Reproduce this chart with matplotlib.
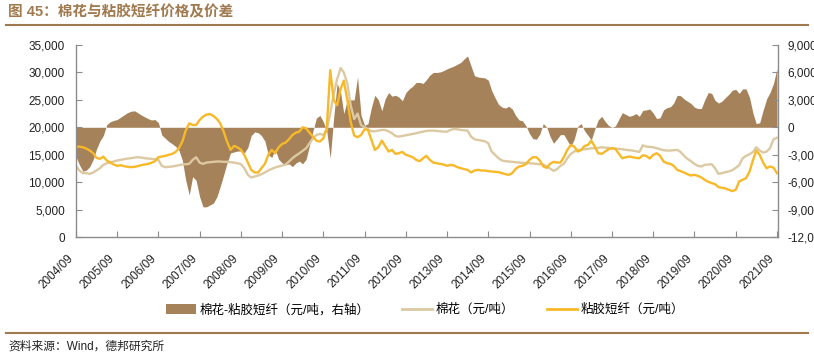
import numpy as np
import pandas as pd
import matplotlib
matplotlib.use('Agg')
import matplotlib.pyplot as plt
from matplotlib.patches import Patch
from matplotlib.lines import Line2D
from matplotlib.ticker import FuncFormatter, MultipleLocator
import matplotlib.dates as mdates

plt.rcParams['font.family'] = ['Liberation Sans', 'Noto Sans CJK SC']

# monthly data, 2004/09 .. 2021/09
start_month = '2004-09-01'

cotton = [12970, 12120, 11640, 11640, 11510, 11760, 12120, 12540, 13150, 13450,
          13640, 13760, 13940, 14060, 14180, 14300, 14360, 14480, 14540, 14480,
          14360, 14300, 14240, 14180, 14060, 12970, 12730, 12790, 12850, 12970,
          13090, 13210, 13270, 13330, 14060, 14540, 13570, 13330, 13570, 13640,
          13700, 13760, 13760, 13700, 13700, 13640, 13570, 13450, 13270, 12540,
          11330, 10850, 11030, 11210, 11450, 11760, 12120, 12420, 12670, 12850,
          13030, 13210, 13760, 14360, 14850, 15270, 15700, 16180, 17090, 18000,
          18600, 18790, 18600, 19510, 22500, 26000, 28800, 30800, 30000, 28000,
          24000, 21500, 22500, 20420, 20000, 19630, 19270, 19270, 19390, 19510,
          19510, 19270, 18910, 18420, 18300, 18420, 18540, 18660, 18790, 18910,
          19090, 19210, 19330, 19390, 19390, 19330, 19270, 19210, 19210, 19510,
          19700, 19630, 19510, 19450, 19390, 18300, 17820, 17700, 17570, 17450,
          17090, 15570, 14970, 14360, 13940, 13820, 13760, 13700, 13640, 13570,
          13510, 13450, 13450, 13390, 13330, 13270, 13210, 12850, 12480, 12060,
          12360, 12970, 13330, 14360, 15150, 15570, 15880, 15880, 16000, 16060,
          16180, 16180, 16240, 16360, 16300, 16240, 16180, 16120, 16060, 16000,
          15880, 15820, 15760, 15640, 15510, 16720, 16480, 16420, 16360, 16180,
          16000, 15820, 15760, 15760, 15820, 15880, 15510, 14790, 14240, 13820,
          13330, 12970, 12850, 13150, 13210, 13270, 12540, 11510, 11640, 11820,
          11940, 12180, 12610, 13090, 14360, 14790, 15090, 15510, 16360, 15760,
          15390, 15570, 16180, 17800, 18100]

viscose = [16420, 16480, 16360, 16120, 15760, 15270, 14420, 14240, 14660, 13940,
           13570, 13210, 12970, 13090, 12910, 12790, 12730, 12790, 12910, 13090,
           13210, 13330, 13510, 13820, 14540, 14660, 14790, 14970, 15150, 15510,
           16180, 17390, 19390, 20730, 20420, 20420, 21330, 21940, 22300, 22420,
           22060, 21510, 20730, 19210, 17390, 15880, 16600, 16360, 15880, 14970,
           13570, 12240, 11760, 11760, 12540, 13330, 14970, 15880, 15270, 16360,
           16970, 17210, 17820, 18600, 19030, 19210, 20000, 19820, 19030, 18300,
           17570, 17390, 17990, 19820, 30400, 25000, 24000, 27000, 28500, 25000,
           21000, 18500, 18180, 18600, 19630, 19510, 17700, 15880, 16360, 17570,
           16600, 15570, 15880, 15150, 15270, 15510, 14970, 14790, 14540, 14060,
           13820, 14360, 14790, 14060, 13570, 13450, 13330, 13210, 12970, 13150,
           13030, 12730, 12540, 12360, 12240, 11760, 12120, 12240, 12120, 12120,
           12000, 11940, 11880, 11820, 11640, 11450, 11330, 11640, 12420, 12850,
           12970, 13330, 14060, 14540, 14540, 13940, 12850, 12610, 13330, 13700,
           13570, 13570, 14540, 15880, 16790, 16480, 15570, 15880, 16600, 16790,
           17570, 16480, 15270, 15150, 15570, 16000, 16180, 16060, 15150, 14360,
           14540, 14660, 14540, 14420, 14360, 14900, 14790, 14300, 14970, 15270,
           14790, 13760, 13450, 13330, 12970, 12240, 12000, 11760, 11450, 11210,
           11330, 11150, 10850, 10420, 10060, 9820, 9640, 9090, 8970, 8850,
           8610, 8360, 8610, 10120, 10420, 10730, 11940, 14060, 15760, 14970,
           13570, 12540, 12850, 12650, 11640]

spread = [-3200, -4100, -4800, -4700, -4300, -3500, -2400, -1500, -900, 300,
          600, 750, 850, 1100, 1350, 1600, 1750, 1800, 1600, 1350,
          1150, 950, 800, 850, 500, -850, -1200, -1550, -1800, -2100,
          -2500, -3600, -5800, -7400, -5400, -5800, -7600, -8700, -8700, -8500,
          -8300, -7600, -6500, -5200, -3900, -2800, -2700, -2600, -2600, -2800,
          -2200, -900, -500, -600, -900, -1500, -3000, -3300, -2400, -3500,
          -3900, -4100, -4000, -4300, -3900, -3700, -4000, -3500, -2000, -400,
          1000, 1300, 600, -400, -3400, 1000, 4800, 3800, 1500, 3000,
          3000, 3000, 5500, 1300, 200, 400, 2200, 3500, 3000, 1800,
          3100, 3800, 3400, 3500, 3300, 2900, 3800, 4200, 4500, 4900,
          4900, 4800, 5200, 5700, 6000, 6000, 6050, 6200, 6400, 6550,
          6700, 6900, 7100, 7500, 7800, 6700, 5650, 5500, 5450, 5400,
          5150, 4000, 3200, 2500, 2200, 2100, 2300, 2000, 1300, 800,
          700, 150, -700, -1250, -1300, -750, 400, 0, -1000, -1750,
          -1300, -800, -800, -1450, -2100, -1300, 100, 400, -400, -900,
          -1400, -200, 800, 1200, 650, 200, 0, 150, 900, 1600,
          1400, 1200, 1300, 1500, 1200, 1850, 1900, 2000, 1550, 950,
          1050, 1900, 2150, 2250, 2650, 3500, 3450, 3100, 2850, 2600,
          2200, 2050, 2050, 3000, 3800, 3700, 2950, 2650, 2850, 3250,
          3600, 4050, 4150, 3700, 4200, 4200, 3250, 1500, 400, 500,
          1850, 3100, 3800, 4800, 6450]

labels = ['棉花-粘胶短纤（元/吨，右轴）', '棉花（元/吨）', '粘胶短纤（元/吨）']

dates = pd.date_range(start_month, periods=len(cotton), freq='MS')

brown = '#A6825A'
beige = '#DCC9A2'
yellow = '#F7B928'
title_col = '#A07A4E'
axis_col = '#8C8C8C'

fig = plt.figure(figsize=(8.14, 3.6), dpi=100)
ax = fig.add_axes([76/814, 1-237/360, (778-76)/814, (237-45)/360])
ax2 = ax.twinx()

ax2.fill_between(dates, spread, 0, color=brown, linewidth=0)
ax.plot(dates, cotton, color=beige, lw=1.7)
ax.plot(dates, viscose, color=yellow, lw=1.7)

ax.set_zorder(ax2.get_zorder() + 1)
ax.patch.set_visible(False)

ax.set_ylim(0, 35000)
ax.yaxis.set_major_locator(MultipleLocator(5000))
ax2.set_ylim(-12000, 9000)
ax2.yaxis.set_major_locator(MultipleLocator(3000))
fmt = FuncFormatter(lambda v, p: '{:,.0f}'.format(v))
ax.yaxis.set_major_formatter(fmt)
ax2.yaxis.set_major_formatter(fmt)

ax.set_xlim(pd.Timestamp('2004-09-01'), pd.Timestamp('2021-09-10'))
ax.xaxis.set_major_locator(mdates.MonthLocator(bymonth=9, bymonthday=1))
ax.xaxis.set_major_formatter(mdates.DateFormatter('%Y/%m'))
for t in ax.get_xticklabels():
    t.set_rotation(45)
    t.set_ha('right')

for a in (ax, ax2):
    a.spines['top'].set_visible(False)
    for s in ('left', 'right', 'bottom'):
        a.spines[s].set_color(axis_col)
        a.spines[s].set_linewidth(1)
ax.spines['right'].set_visible(False)
ax2.spines['left'].set_visible(False)
ax2.spines['bottom'].set_visible(False)

ax.tick_params(axis='y', direction='in', length=4, color=axis_col, labelsize=8.5, pad=8, labelcolor='#222222')
ax.tick_params(axis='x', direction='in', length=4, color=axis_col, labelsize=8.5, pad=11, labelcolor='#222222')
ax2.tick_params(axis='y', direction='in', length=4, color=axis_col, labelsize=8.5, pad=7, labelcolor='#222222')

handles = [Patch(facecolor=brown, edgecolor='none'),
           Line2D([], [], color=beige, lw=2),
           Line2D([], [], color=yellow, lw=2)]
fig.legend(handles, labels, loc='center', bbox_to_anchor=(0.522, 1-310/360), ncol=3,
           frameon=False, fontsize=9, handlelength=2.4, handleheight=0.8,
           columnspacing=2.6, handletextpad=0.3)

fig.text(0.01, 1-12/360, '图 45：棉花与粘胶短纤价格及价差', fontsize=10.5,
         fontweight='bold', color=title_col, va='center')
fig.add_artist(Line2D([0.007, 0.993], [1-25/360, 1-25/360], transform=fig.transFigure,
                      color=title_col, lw=1.5))
fig.add_artist(Line2D([0.007, 0.993], [1-333/360, 1-333/360], transform=fig.transFigure,
                      color=title_col, lw=1.5))
fig.text(0.01, 1-347/360, '资料来源：Wind，德邦研究所', fontsize=8.5, color='#222222', va='center')

fig.savefig('out.png', dpi=100)
